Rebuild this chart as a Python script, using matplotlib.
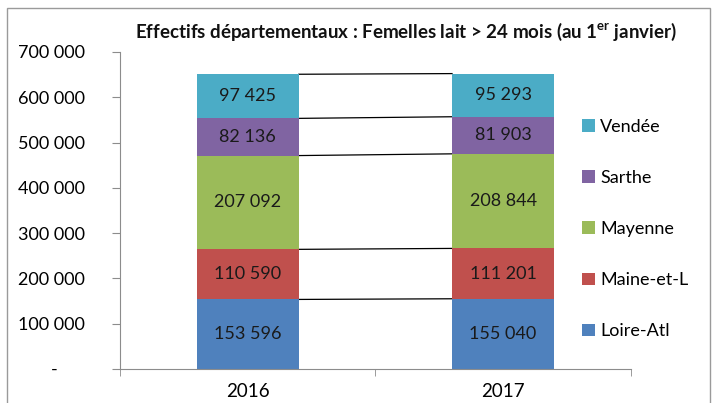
import matplotlib
matplotlib.use("Agg")
import matplotlib.pyplot as plt
from matplotlib.patches import Rectangle
import numpy as np

years = ["2016", "2017"]
departments = ["Loire-Atl", "Maine-et-L", "Mayenne", "Sarthe", "Vendée"]
loire_atl = [153596, 155040]
maine_et_l = [110590, 111201]
mayenne = [207092, 208844]
sarthe = [82136, 81903]
vendee = [97425, 95293]
series = [loire_atl, maine_et_l, mayenne, sarthe, vendee]
colors = ["#4F81BD", "#C0504D", "#9BBB59", "#8064A2", "#4BACC6"]
yticks = [0, 100000, 200000, 300000, 400000, 500000, 600000, 700000]
title = "Effectifs départementaux : Femelles lait > 24 mois (au 1$^{\\mathregular{er}}$ janvier)"

plt.rcParams['font.family'] = ['Lato', 'DejaVu Sans']

fig = plt.figure(figsize=(7.16, 4.03), dpi=100)
ax = fig.add_axes([0.1676, 0.0844, 0.881 - 0.1676, 0.871 - 0.0844])

# outer frame
fig.patches.append(Rectangle((7/716, -0.05), (710-7)/716, 1.05 - 8/403,
                             transform=fig.transFigure, fill=False,
                             edgecolor="#9a9a9a", lw=1.0))

x = np.arange(len(years))
width = 0.4
bottom = np.zeros(len(years))
handles = []
for name, vals, col in zip(departments, series, colors):
    vals = np.array(vals, dtype=float)
    b = ax.bar(x, vals, width, bottom=bottom, color=col, label=name, zorder=2)
    handles.append(b)
    for xi, v, bt in zip(x, vals, bottom):
        ax.text(xi, bt + v / 2, f"{int(v):,}".replace(",", " "),
                ha="center", va="center", fontsize=13, color="#1a1a1a", zorder=3)
    bottom = bottom + vals
    # series lines
    ax.plot([x[0] + width / 2, x[1] - width / 2], [bottom[0], bottom[1]],
            color="black", lw=0.9, zorder=1)

ax.set_xlim(-0.5, 1.5)
ax.set_ylim(0, 700000)
ax.set_xticks(x)
ax.set_xticklabels(years, fontsize=13.5)
ax.set_xticks([-0.5, 0.5, 1.5], minor=True)
ax.tick_params(axis="x", which="major", length=0, pad=10)
ax.tick_params(axis="x", which="minor", length=5, color="#8c8c8c", direction="out")
ax.set_yticks(yticks)
def fmt(v):
    if v == 0:
        return "-      "
    return f"{int(v):,}".replace(",", " ")
ax.set_yticklabels([fmt(v) for v in yticks], fontsize=13)
ax.tick_params(axis="y", length=6, color="#8c8c8c", pad=19, direction="out")

for s in ["top", "right"]:
    ax.spines[s].set_visible(False)
ax.spines["left"].set_color("#8c8c8c")
ax.spines["bottom"].set_color("#8c8c8c")

fig.text(406/716, 1 - 32/403, title, ha="center", va="center",
         fontsize=13.5, fontweight="bold", color="#111111")

leg = fig.legend(handles[::-1], departments[::-1], loc="center left",
                 bbox_to_anchor=(566/716, 1 - 229/403), frameon=False,
                 fontsize=13, handlelength=0.7, handleheight=0.7,
                 handletextpad=0.3, labelspacing=1.95)

fig.savefig("out.png", dpi=100)
